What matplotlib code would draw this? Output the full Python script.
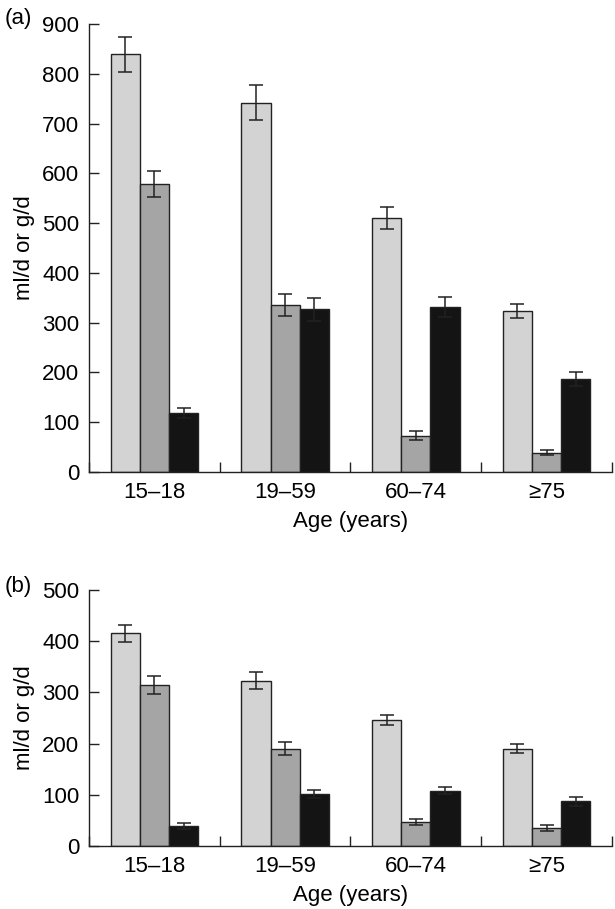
import matplotlib
matplotlib.use("Agg")
import matplotlib.pyplot as plt
import numpy as np

plt.rcParams['font.family'] = ['Liberation Sans', 'DejaVu Sans']

age_groups = ['15\u201318', '19\u201359', '60\u201374', '\u226575']

# panel (a)
a_light = [839, 742, 510, 324]
a_light_err = [35, 35, 22, 14]
a_mid = [578, 335, 73, 39]
a_mid_err = [26, 22, 9, 5]
a_dark = [118, 327, 331, 186]
a_dark_err = [10, 23, 20, 14]

# panel (b)
b_light = [415, 323, 246, 190]
b_light_err = [16, 17, 9, 9]
b_mid = [314, 190, 47, 35]
b_mid_err = [17, 13, 6, 6]
b_dark = [39, 101, 108, 87]
b_dark_err = [5, 8, 7, 8]

colors = ['#d3d3d3', '#a5a5a5', '#141414']
FS = 16


def draw_panel(ax, series, errs, ymax, ystep, tag):
    n = len(age_groups)
    x = np.arange(n) + 0.5
    w = 0.223
    for k, (vals, err) in enumerate(zip(series, errs)):
        pos = x + (k - 1) * w
        ax.bar(pos, vals, width=w, color=colors[k], edgecolor='#222222',
               linewidth=1.0, zorder=2)
        ax.errorbar(pos, vals, yerr=err, fmt='none', ecolor='#222222',
                    elinewidth=1.1, capsize=5, capthick=1.1, zorder=3)
    ax.set_xlim(0, n)
    ax.set_ylim(0, ymax)
    ax.set_yticks(np.arange(0, ymax + 1, ystep))
    ax.set_xticks(np.arange(0, n + 1))
    ax.set_xticklabels([])
    ax.set_xticks(x, minor=True)
    ax.set_xticklabels(age_groups, minor=True)
    ax.tick_params(axis='x', which='major', direction='in', length=7,
                   width=1, color='#222222')
    ax.tick_params(axis='x', which='minor', length=0, pad=7, labelsize=FS)
    ax.tick_params(axis='y', direction='in', length=7, width=1,
                   color='#222222', pad=7, labelsize=FS)
    for s in ['top', 'right']:
        ax.spines[s].set_visible(False)
    for s in ['left', 'bottom']:
        ax.spines[s].set_linewidth(1.0)
        ax.spines[s].set_color('#222222')
    ax.set_xlabel('Age (years)', fontsize=FS, labelpad=6)
    ax.set_ylabel('ml/d or g/d', fontsize=FS, labelpad=5)
    ax.text(-0.162, 1.012, tag, transform=ax.transAxes, fontsize=FS,
            ha='left', va='center')


fig = plt.figure(figsize=(6.15, 9.09), dpi=100)
ax1 = fig.add_axes([0.1447, 0.4807, 0.8503, 0.4929])
ax2 = fig.add_axes([0.1447, 0.0693, 0.8503, 0.2817])

draw_panel(ax1, [a_light, a_mid, a_dark], [a_light_err, a_mid_err, a_dark_err],
           900, 100, '(a)')
draw_panel(ax2, [b_light, b_mid, b_dark], [b_light_err, b_mid_err, b_dark_err],
           500, 100, '(b)')

fig.savefig('out.png', dpi=100)
